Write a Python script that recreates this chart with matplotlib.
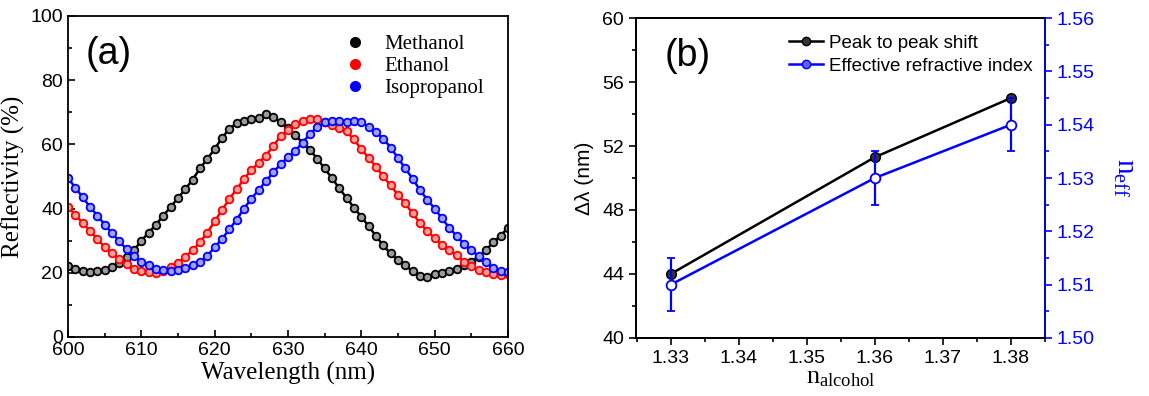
import numpy as np
import matplotlib
matplotlib.use('Agg')
import matplotlib.pyplot as plt
from matplotlib.ticker import MultipleLocator

# panel (a): reflectivity spectra, every 1 nm
wavelength = list(range(600, 661))
methanol = [22, 21.3, 20.7, 20.3, 20.4, 21, 21.8, 23, 24.8, 27,
            30, 32.5, 35, 37.8, 40.5, 43.3, 46, 49, 52.5, 55.5,
            58.5, 62, 64.8, 66.5, 67.3, 67.8, 68.3, 69.3, 68.5, 66.8,
            65, 62.8, 60.5, 58.3, 55.5, 52.5, 49.5, 46.3, 43.3, 40.3,
            37.5, 34.5, 31.5, 28.5, 26, 24, 22.3, 20.5, 19, 18.8,
            19.5, 19.8, 20.5, 21.3, 22.3, 23.5, 25, 27, 29.5, 31.5, 34]
ethanol = [40.5, 38, 35.5, 33, 30.5, 28, 26, 24.3, 22.7, 21.3,
           20.5, 20.2, 20, 20.5, 21.8, 23, 25, 27, 29.5, 32.5,
           36, 39.5, 43, 46, 49.2, 52, 54.2, 56.5, 59.5, 62.5,
           64.5, 66.3, 67.3, 68, 67.8, 66.8, 66, 65.2, 64, 61.5,
           58.5, 55.8, 53, 50, 47.2, 44.3, 41.6, 38.5, 35.5, 33,
           30.8, 28.8, 27, 25.5, 23.5, 22, 21, 20.2, 19.7, 19.4, 19.5]
isopropanol = [49.5, 46.5, 43.5, 40.5, 37.8, 35, 32.3, 29.8, 27.3, 25.2,
               23.5, 22.3, 21.3, 20.8, 20.4, 20.8, 21.5, 22.5, 23.5, 25.2,
               28, 30.5, 33.5, 36.5, 40, 43, 45.8, 48.5, 51.3, 53.8,
               56, 58, 60.5, 63.3, 65.3, 66.8, 67.2, 67.4, 67, 67.2,
               66.8, 65.5, 63.8, 61.8, 59, 55.8, 52.5, 49.3, 45.8, 42.8,
               40, 37, 34, 31.5, 29, 27, 25.2, 23.3, 21.5, 20.5, 20.3]

# panel (b)
n_alcohol = [1.33, 1.36, 1.38]
peak_shift = [44.0, 51.3, 55.0]
n_eff = [1.51, 1.53, 1.54]
n_eff_err = [0.005, 0.005, 0.005]

serif = 'Liberation Serif'
sans = 'Liberation Sans'
plt.rcParams['font.family'] = sans

fig = plt.figure(figsize=(11.49, 3.96), dpi=100)

# ---------- (a) ----------
ax1 = fig.add_axes([0.0592, 0.149, 0.3828, 0.811])
series = [(methanol, 'black', '#9a9a9a', 'Methanol'),
          (ethanol, 'red', '#ffa0a0', 'Ethanol'),
          (isopropanol, 'blue', '#a0a0ff', 'Isopropanol')]
for vals, c, fc, name in series:
    ax1.plot(wavelength, vals, '-', color=c, lw=1.8, marker='o', ms=5.5,
             mfc=fc, mec=c, mew=1.3, label=name)
ax1.set_xlim(600, 660)
ax1.set_ylim(0, 100)
ax1.xaxis.set_major_locator(MultipleLocator(10))
ax1.xaxis.set_minor_locator(MultipleLocator(5))
ax1.yaxis.set_major_locator(MultipleLocator(20))
ax1.yaxis.set_minor_locator(MultipleLocator(10))
ax1.tick_params(which='both', direction='in', labelsize=14, width=1.2)
ax1.tick_params(which='major', length=5)
ax1.tick_params(which='minor', length=3)
for s in ax1.spines.values():
    s.set_linewidth(1.3)
ax1.set_xlabel('Wavelength (nm)', fontfamily=serif, fontsize=18, labelpad=2)
ax1.set_ylabel('Reflectivity (%)', fontfamily=serif, fontsize=18, labelpad=4)
ax1.text(0.04, 0.88, '(a)', transform=ax1.transAxes, fontsize=27,
         fontfamily=sans, va='center')
leg_handles = [plt.Line2D([], [], ls='none', marker='o', ms=7, color=c)
               for _, c, _, _ in series]
ax1.legend(leg_handles, [s[3] for s in series], loc='upper right',
           frameon=False, prop={'family': serif, 'size': 15},
           handlelength=1.0, handletextpad=0.9, labelspacing=0.12,
           bbox_to_anchor=(0.988, 1.0))

# ---------- (b) ----------
ax2 = fig.add_axes([0.5535, 0.1465, 0.356, 0.808])
ax2.plot(n_alcohol, peak_shift, '-', color='black', lw=1.8,
         marker='o', ms=7, mfc='#333333', mec='black')
ax2.set_xlim(1.3249, 1.385)
ax2.set_ylim(40, 60)
ax2.xaxis.set_major_locator(MultipleLocator(0.01))
ax2.xaxis.set_minor_locator(MultipleLocator(0.005))
ax2.yaxis.set_major_locator(MultipleLocator(4))
ax2.yaxis.set_minor_locator(MultipleLocator(2))
ax2.tick_params(which='both', direction='out', labelsize=14, width=1.2)
ax2.tick_params(which='major', length=5)
ax2.tick_params(which='minor', length=3)
ax2.set_xticklabels([f'{v:.2f}' for v in ax2.get_xticks()])
ax2.set_ylabel('Δλ (nm)', fontsize=15, labelpad=6)
ax2.set_xlabel(r'$\mathregular{n_{alcohol}}$', fontfamily=serif, fontsize=19,
               labelpad=0)
ax2.text(0.07, 0.88, '(b)', transform=ax2.transAxes, fontsize=27,
         fontfamily=sans, va='center')

ax3 = ax2.twinx()
ax3.errorbar(n_alcohol, n_eff, yerr=n_eff_err, color='blue', lw=1.8,
             marker='o', ms=7, mfc='white', mec='blue', mew=1.3,
             ecolor='blue', elinewidth=1.6, capsize=3, capthick=1.6)
ax3.set_ylim(1.50, 1.56)
ax3.yaxis.set_major_locator(MultipleLocator(0.01))
ax3.yaxis.set_minor_locator(MultipleLocator(0.005))
ax3.tick_params(which='both', direction='out', labelsize=14, width=1.2,
                colors='blue')
ax3.tick_params(which='major', length=5)
ax3.tick_params(which='minor', length=3)
ax3.set_yticklabels([f'{v:.2f}' for v in ax3.get_yticks()])
ax3.set_ylabel(r'$\mathregular{n_{eff}}$', fontfamily=serif, fontsize=21,
               color='blue', rotation=270, labelpad=30)
for ax in (ax2, ax3):
    for s in ax.spines.values():
        s.set_linewidth(1.3)
ax3.spines['right'].set_color('blue')

h_black = plt.Line2D([], [], color='black', lw=1.8, marker='o', ms=6,
                     mfc='#333333', mec='black')
h_blue = plt.Line2D([], [], color='blue', lw=1.8, marker='o', ms=6,
                    mfc='#6060ff', mec='blue')
ax3.legend([h_black, h_blue], ['Peak to peak shift', 'Effective refractive index'],
           loc='upper right', frameon=False, fontsize=13.5,
           handlelength=1.8, handletextpad=0.3, labelspacing=0.3,
           bbox_to_anchor=(1.01, 1.0))

fig.savefig('out.png', dpi=100)
